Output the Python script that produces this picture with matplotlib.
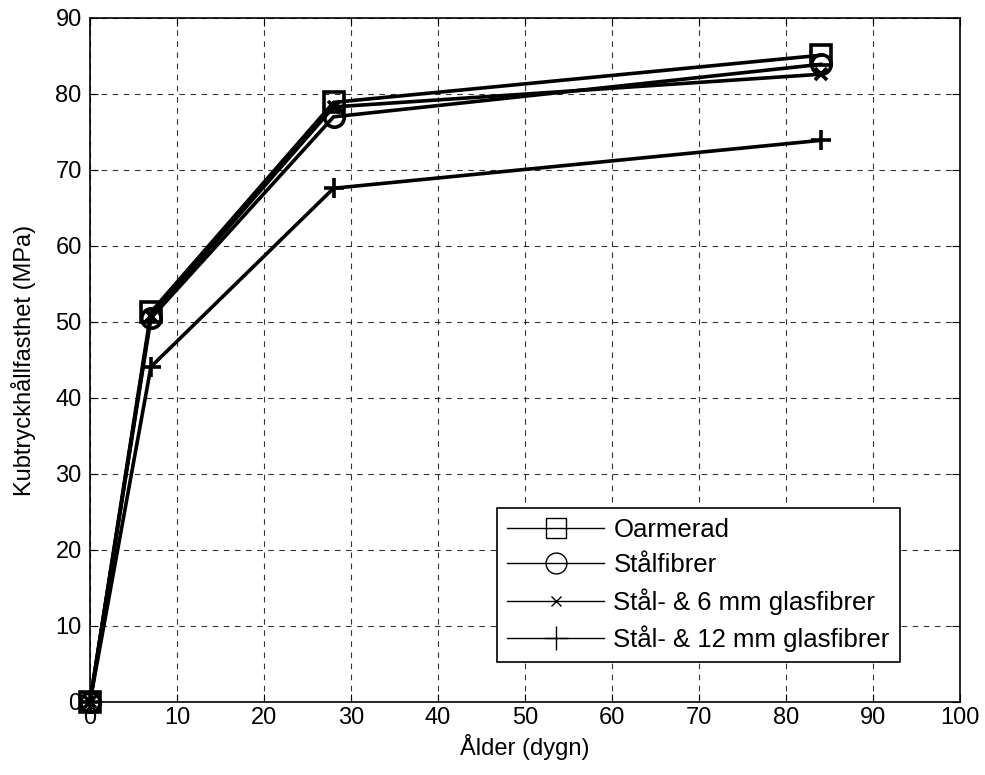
import numpy as np
import matplotlib
matplotlib.use('Agg')
import matplotlib.pyplot as plt
from matplotlib.lines import Line2D

plt.rcParams['font.family'] = ['Liberation Sans', 'DejaVu Sans']

# Data
dygn = [0, 7, 28, 84]
oarmerad = [0, 51.3, 78.9, 85.1]
stalfibrer = [0, 50.5, 77.0, 83.9]
glas6 = [0, 50.8, 78.3, 82.6]
glas12 = [0, 44.1, 67.6, 73.9]
labels = ['Oarmerad', 'Stålfibrer', 'Stål- & 6 mm glasfibrer', 'Stål- & 12 mm glasfibrer']
markers = ['s', 'o', 'x', '+']

fig = plt.figure(figsize=(9.85, 7.75), dpi=100)
ax = fig.add_axes([90/985, 73/775, 870/985, 684/775])

series = [oarmerad, stalfibrer, glas6, glas12]
msizes = [15, 14, 8, 15]
for vals, m, ms in zip(series, markers, msizes):
    ax.plot(dygn, vals, color='black', linewidth=2.6, marker=m, markersize=ms,
            markerfacecolor='none', markeredgewidth=2.6, clip_on=False, zorder=3)

ax.set_xlim(0, 100)
ax.set_ylim(0, 90)
ax.set_xticks(np.arange(0, 101, 10))
ax.set_yticks(np.arange(0, 91, 10))
ax.grid(True, color='black', linestyle=(0, (5, 5)), linewidth=0.8, alpha=0.8)
ax.tick_params(direction='in', top=True, right=True, labelsize=17, length=6)
ax.tick_params(axis='y', pad=6)
for s in ax.spines.values():
    s.set_linewidth(1.2)
for t in ax.get_yticklabels() + ax.get_xticklabels():
    t.set_zorder(5)

ax.set_xlabel('Ålder (dygn)', fontsize=17, labelpad=4)
ax.set_ylabel('Kubtryckhållfasthet (MPa)', fontsize=17, labelpad=14)

handles = [Line2D([], [], color='black', linewidth=1, marker=m,
                  markersize=ms, markerfacecolor='none', markeredgewidth=1)
           for m, ms in zip(markers, [15, 15, 7, 17])]
leg = ax.legend(handles, labels, loc='lower right', bbox_to_anchor=(0.931, 0.058),
                fontsize=18.5, frameon=True, fancybox=False, edgecolor='black',
                framealpha=1, borderaxespad=0, handlelength=3.8, labelspacing=0.42,
                handletextpad=0.35, borderpad=0.4)
leg.get_frame().set_linewidth(1.2)

fig.savefig('out.png', dpi=100)
